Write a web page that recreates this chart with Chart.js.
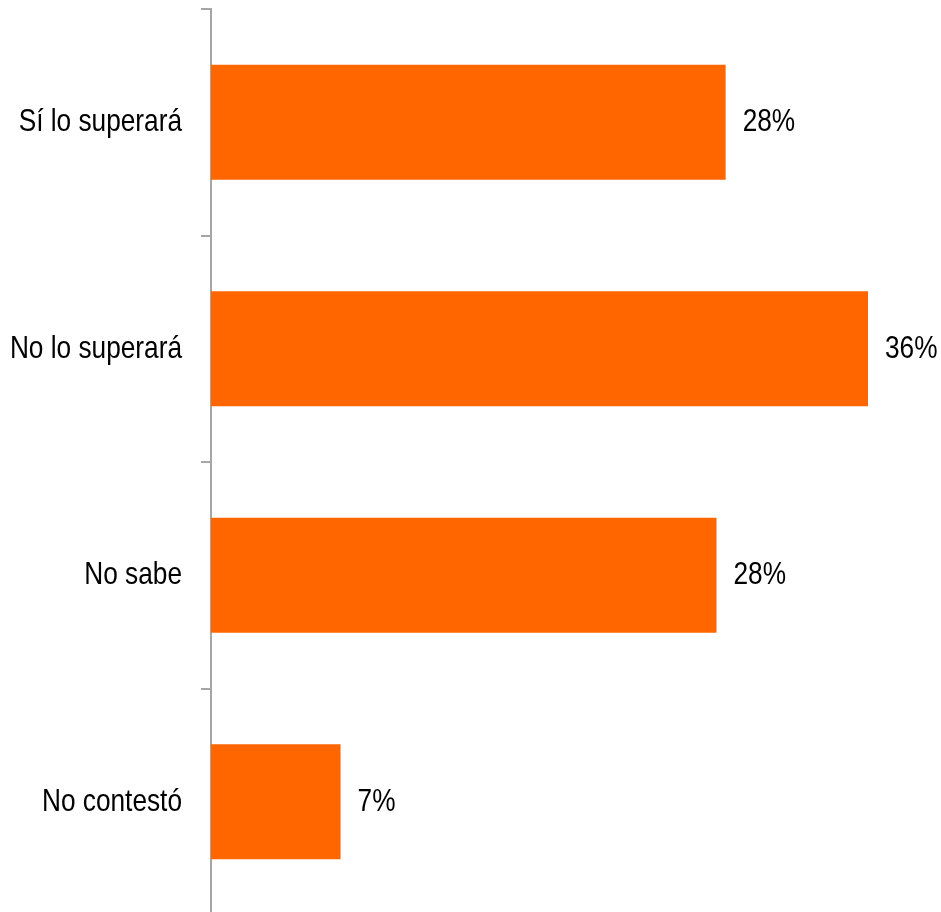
<!DOCTYPE html>
<html>
<head>
<meta charset="utf-8">
<script src="https://cdn.jsdelivr.net/npm/chart.js@4"></script>
<style>
html,body{margin:0;padding:0;background:#fff;overflow:hidden;}
#wrap{width:941px;height:912px;position:relative;overflow:hidden;}
</style>
</head>
<body>
<div id="wrap"><canvas id="c" width="941" height="915"></canvas></div>
<script>
const categories = ["Sí lo superará", "No lo superará", "No sabe", "No contestó"];
const values = [28.2, 36.0, 27.7, 7.1];
const valueLabels = ["28%", "36%", "28%", "7%"];

const FONT = "'Liberation Sans', Arial, sans-serif";
const NARROW = 0.82; // emulate Arial Narrow look

const labelPlugin = {
  id: 'barLabels',
  afterDatasetsDraw(chart) {
    const ctx = chart.ctx;
    const meta = chart.getDatasetMeta(0);
    ctx.save();
    ctx.font = "32px " + FONT;
    ctx.fillStyle = "#000";
    ctx.textAlign = "left";
    ctx.textBaseline = "middle";
    meta.data.forEach((bar, i) => {
      const x = bar.x + 17;
      ctx.save();
      ctx.translate(x, 0);
      ctx.scale(NARROW, 1);
      ctx.fillText(valueLabels[i], 0, bar.y);
      ctx.restore();
    });
    ctx.restore();
  }
};

new Chart(document.getElementById('c'), {
  type: 'bar',
  data: {
    labels: categories,
    datasets: [{
      data: values,
      backgroundColor: '#FF6600',
      borderWidth: 0,
      barPercentage: 0.508,
      categoryPercentage: 1.0
    }]
  },
  options: {
    indexAxis: 'y',
    responsive: false,
    animation: false,
    devicePixelRatio: 1,
    layout: { padding: { top: 9, bottom: 0, left: 0, right: 0 } },
    plugins: { legend: { display: false }, title: { display: false }, tooltip: { enabled: false } },
    scales: {
      x: { display: false, min: 0, max: 40 },
      y: {
        afterFit(scale) {
          scale.width = 211;
          scale.paddingTop = 0;
          scale.paddingBottom = 0;
        },
        afterUpdate(scale) {
          if (!scale._narrowPatched) {
            const orig = scale.drawLabels;
            scale.drawLabels = function (area) {
              const ctx = this.ctx;
              const ax = this.right - 10 - 19;
              const savedLeft = this.left;
              this.left = -2000;
              ctx.save();
              ctx.translate(ax, 0);
              ctx.scale(NARROW, 1);
              ctx.translate(-ax, 0);
              orig.call(this, area);
              ctx.restore();
              this.left = savedLeft;
            };
            scale._narrowPatched = true;
          }
        },
        grid: {
          display: true,
          drawOnChartArea: false,
          drawTicks: true,
          tickLength: 10,
          color: '#A6A6A6',
          lineWidth: 2,
          offset: true
        },
        border: { display: true, color: '#A6A6A6', width: 2 },
        ticks: {
          padding: 19,
          color: '#000',
          font: { size: 32, family: FONT }
        }
      }
    }
  },
  plugins: [labelPlugin]
});
</script>
</body>
</html>
